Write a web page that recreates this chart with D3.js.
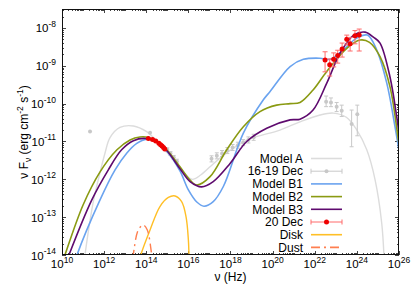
<!DOCTYPE html>
<html>
<head>
<meta charset="utf-8">
<script src="https://cdn.jsdelivr.net/npm/d3@7"></script>
<style>
body { margin: 0; background: #fff; }
text { font-family: "Liberation Sans", Arial, Helvetica, sans-serif; fill: #000; }
</style>
</head>
<body>
<div id="chart"></div>
<script>
// All values are log10(nu / Hz), log10(nuFnu / erg cm^-2 s^-1)
const modelA = [[11.09,-14.0],[11.3,-13.2],[11.5,-12.55],[11.75,-11.95],[12.04,-11.31],[12.28,-10.9],
  [12.75,-10.63],[13.39,-10.59],[14.02,-10.74],[14.4,-10.93],[14.81,-11.18],[15.5,-11.62],[16.16,-12.0],
  [16.6,-11.88],[17.2,-11.58],[17.82,-11.3],[18.5,-11.05],[19.08,-10.9],[20.35,-10.7],[21.3,-10.48],
  [22.25,-10.3],[22.88,-10.25],[23.5,-10.36],[24.0,-10.7],[24.47,-11.22],[24.86,-12.0],[25.18,-13.16],[25.3,-14.2]];
const modelB1 = [[10.6,-14.2],[10.71,-14.0],[11.8,-12.55],[12.52,-11.75],[13.07,-11.31],[13.55,-11.05],[14.02,-10.94],
  [14.42,-10.99],[15.0,-11.27],[15.6,-11.78],[16.0,-12.28],[16.4,-12.6],[16.74,-12.71],[17.18,-12.59],[17.66,-12.19],
  [18.61,-10.78],[19.56,-9.9],[19.88,-9.68],[20.83,-9.02],[21.46,-8.83],[22.25,-8.8],[22.73,-8.83],[23.36,-8.58],
  [23.99,-8.27],[24.5,-8.19],[24.94,-8.58],[25.42,-9.46],[25.81,-10.61],[26.1,-11.6]];
const modelB2 = [[10.05,-14.15],[10.14,-14.0],[11.0,-12.68],[11.8,-11.81],[12.61,-11.22],[13.23,-10.96],[13.7,-10.88],
  [14.08,-10.89],[14.42,-10.98],[14.97,-11.22],[15.6,-11.67],[16.08,-12.02],[16.4,-12.15],[17.03,-11.93],
  [17.82,-11.22],[18.61,-10.61],[19.4,-10.21],[20.19,-10.04],[20.83,-10.0],[21.3,-9.97],[21.92,-9.64],
  [22.57,-9.15],[23.52,-8.54],[24.15,-8.32],[24.6,-8.38],[25.1,-8.76],[25.57,-9.55],[25.97,-10.96],[26.1,-11.5]];
const modelB3 = [[10.2,-14.2],[10.33,-14.0],[11.41,-12.55],[12.2,-11.75],[12.83,-11.22],[13.39,-10.98],[13.94,-10.92],
  [14.42,-10.99],[14.97,-11.24],[15.6,-11.72],[16.08,-12.06],[16.63,-12.2],[17.18,-12.06],[17.98,-11.58],
  [18.77,-11.0],[19.72,-10.65],[20.83,-10.43],[21.3,-10.41],[21.92,-10.17],[22.57,-9.46],[23.2,-8.67],
  [23.85,-8.19],[24.39,-8.11],[24.8,-8.25],[25.1,-8.4],[25.57,-9.29],[25.89,-10.34],[26.1,-11.2]];
const disk = [[13.7,-14.1],[13.74,-14.0],[14.18,-13.34],[14.65,-12.72],[15.05,-12.48],[15.37,-12.44],
  [15.68,-12.59],[15.89,-12.99],[16.0,-13.6],[16.03,-14.0],[16.04,-14.1]];
const dust = [[13.34,-14.1],[13.38,-14.0],[13.62,-13.34],[13.86,-13.21],[14.05,-13.34],[14.26,-14.0],[14.29,-14.1]];

// 16-19 Dec data: [log nu, log flux, low, high]
const obsOld = [[11.33,-10.74,-10.74,-10.74],[14.18,-10.77,-10.77,-10.77],
  [15.0,-11.22,-11.27,-11.17],[15.15,-11.32,-11.37,-11.27],[15.3,-11.42,-11.47,-11.37],[15.45,-11.52,-11.57,-11.47],
  [17.1,-11.46,-11.54,-11.38],[17.35,-11.38,-11.46,-11.3],[17.6,-11.32,-11.4,-11.24],[17.85,-11.24,-11.32,-11.16],
  [18.1,-11.16,-11.24,-11.08],[18.35,-11.1,-11.18,-11.02],[18.6,-11.03,-11.11,-10.95],[18.85,-10.96,-11.04,-10.88],
  [19.1,-10.89,-10.97,-10.81],
  [22.54,-9.95,-10.08,-9.8],[22.77,-9.97,-10.08,-9.85],[23.04,-10.08,-10.21,-9.97],[23.28,-10.19,-10.34,-10.04],
  [23.75,-10.54,-11.14,-10.17],[24.02,-10.28,-10.85,-10.04]];
// 20 Dec data: [log nu, log flux, low, high]
const obsNew = [[14.1,-10.92,-10.92,-10.92],[14.3,-10.95,-10.95,-10.95],[14.45,-10.99,-10.99,-10.99],
  [14.6,-11.05,-11.05,-11.05],[14.68,-11.09,-11.09,-11.09],[14.75,-11.12,-11.12,-11.12],[14.82,-11.16,-11.16,-11.16],
  [14.88,-11.2,-11.2,-11.2],
  [22.49,-8.85,-9.16,-8.63],[22.71,-8.97,-9.27,-8.82],[22.9,-8.83,-9.03,-8.66],[23.09,-8.73,-8.93,-8.59],
  [23.3,-8.56,-8.77,-8.4],[23.52,-8.3,-8.45,-8.19],[23.68,-8.42,-8.61,-8.25],[23.91,-8.21,-8.42,-8.07],
  [24.11,-8.19,-8.61,-8.03]];

const xTickExp = [10,12,14,16,18,20,22,24,26];
const yTickExp = [-14,-13,-12,-11,-10,-9,-8];
const legendNames = ["Model A","16-19 Dec","Model B1","Model B2","Model B3","20 Dec","Disk","Dust"];

let w = 415, h = 291;
let padL = 62, padR = 399, padT = 9, padB = 255;

let svg = d3.select("#chart").append("svg").attr("width", w).attr("height", h);

let xScale = d3.scaleLog().domain([1e10, 1e26]).range([padL, padR]);
let yScale = d3.scaleLog().domain([1e-14, Math.pow(10, -7.5)]).range([padB, padT]);
let px = e => xScale(Math.pow(10, e));
let py = e => yScale(Math.pow(10, e));

svg.append("clipPath").attr("id", "clip")
  .append("rect").attr("x", padL).attr("y", padT).attr("width", padR - padL).attr("height", padB - padT);

// minor and major ticks on all four sides
let tickG = svg.append("g").attr("stroke", "#444").attr("stroke-width", 1);
for (let k = 10; k < 26; k++) {
  for (let m = 1; m <= 9; m++) {
    let v = m * Math.pow(10, k);
    if (m === 1 && k % 2 === 0) continue;
    let xx = Math.round(xScale(v)) + 0.5, len = 2;
    tickG.append("line").attr("x1", xx).attr("x2", xx).attr("y1", padB).attr("y2", padB - len);
    tickG.append("line").attr("x1", xx).attr("x2", xx).attr("y1", padT).attr("y2", padT + len);
  }
}
xTickExp.forEach(e => {
  let xx = Math.round(px(e)) + 0.5;
  tickG.append("line").attr("x1", xx).attr("x2", xx).attr("y1", padB).attr("y2", padB - 4);
  tickG.append("line").attr("x1", xx).attr("x2", xx).attr("y1", padT).attr("y2", padT + 4);
});
for (let k = -14; k < -7; k++) {
  for (let m = 1; m <= 9; m++) {
    let v = m * Math.pow(10, k);
    if (v > Math.pow(10, -7.5)) continue;
    let yy = Math.round(yScale(v)) + 0.5, len = m === 1 ? 4 : 2;
    tickG.append("line").attr("x1", padL).attr("x2", padL + len).attr("y1", yy).attr("y2", yy);
    tickG.append("line").attr("x1", padR).attr("x2", padR - len).attr("y1", yy).attr("y2", yy);
  }
}

// tick labels
xTickExp.forEach(e => {
  let t = svg.append("text").attr("x", px(e)).attr("y", 268).attr("text-anchor", "middle").attr("font-size", "11.5px");
  t.append("tspan").text("10");
  t.append("tspan").attr("dy", -5).attr("font-size", "8.5px").text(e);
});
yTickExp.forEach(e => {
  let t = svg.append("text").attr("x", 56).attr("y", py(e) + 4.5).attr("text-anchor", "end").attr("font-size", "11.5px");
  t.append("tspan").text("10");
  t.append("tspan").attr("dy", -5.5).attr("font-size", "8.5px").text(e);
});

// axis titles
svg.append("text").attr("x", (padL + padR) / 2).attr("y", 281).attr("text-anchor", "middle")
  .attr("font-size", "12px").text("ν (Hz)");
let yt = svg.append("text").attr("transform", "translate(28," + ((padT + padB) / 2) + ") rotate(-90)")
  .attr("text-anchor", "middle").attr("font-size", "12px");
yt.append("tspan").text("ν F");
yt.append("tspan").attr("dy", 3).attr("font-size", "8.5px").text("ν");
yt.append("tspan").attr("dy", -3).text(" (erg cm");
yt.append("tspan").attr("dy", -5).attr("font-size", "8.5px").text("-2");
yt.append("tspan").attr("dy", 5).text(" s");
yt.append("tspan").attr("dy", -5).attr("font-size", "8.5px").text("-1");
yt.append("tspan").attr("dy", 5).text(")");

let plot = svg.append("g").attr("clip-path", "url(#clip)");
let line = d3.line().x(d => px(d[0])).y(d => py(d[1])).curve(d3.curveCatmullRom.alpha(0.5));

function errPoints(data, barColor, dotColor, r, cap) {
  let g = plot.append("g");
  data.forEach(d => {
    let xx = px(d[0]);
    if (d[2] !== d[3]) {
      g.append("line").attr("x1", xx).attr("x2", xx).attr("y1", py(d[2])).attr("y2", py(d[3]))
        .attr("stroke", barColor).attr("stroke-width", 1);
      [d[2], d[3]].forEach(v => g.append("line").attr("x1", xx - cap).attr("x2", xx + cap)
        .attr("y1", py(v)).attr("y2", py(v)).attr("stroke", barColor).attr("stroke-width", 1));
    }
    g.append("circle").attr("cx", xx).attr("cy", py(d[1])).attr("r", r).attr("fill", dotColor);
  });
}

const cA = "#dcdcdc", cOld = "#c8c8c8", cB1 = "#6aa3ef", cB2 = "#8a9a12", cB3 = "#5e0a6e",
      cRed = "#ee0000", cRedBar = "#ff6b6b", cDisk = "#ffbf26", cDust = "#ff7f50";

plot.append("path").datum(modelA).attr("d", line).attr("fill", "none").attr("stroke", cA).attr("stroke-width", 1.4);
errPoints(obsOld, cOld, cOld, 2, 2);
plot.append("path").datum(modelB1).attr("d", line).attr("fill", "none").attr("stroke", cB1).attr("stroke-width", 1.6);
plot.append("path").datum(modelB2).attr("d", line).attr("fill", "none").attr("stroke", cB2).attr("stroke-width", 1.6);
plot.append("path").datum(modelB3).attr("d", line).attr("fill", "none").attr("stroke", cB3).attr("stroke-width", 1.6);
errPoints(obsNew, cRedBar, cRed, 2.5, 2.5);
plot.append("path").datum(disk).attr("d", line).attr("fill", "none").attr("stroke", cDisk).attr("stroke-width", 1.4);
plot.append("path").datum(dust).attr("d", line).attr("fill", "none").attr("stroke", cDust).attr("stroke-width", 1.4)
  .attr("stroke-dasharray", "9,4,2,4");

// frame
svg.append("rect").attr("x", padL + 0.5).attr("y", padT + 0.5).attr("width", padR - padL - 1).attr("height", padB - padT - 1)
  .attr("fill", "none").attr("stroke", "#111").attr("stroke-width", 1);

// legend
let legColors = [cA, cOld, cB1, cB2, cB3, cRedBar, cDisk, cDust];
let leg = svg.append("g");
legendNames.forEach((name, i) => {
  let yy = 158.5 + i * 12.7;
  leg.append("text").attr("x", 303).attr("y", yy + 4.2).attr("text-anchor", "end").attr("font-size", "12px").text(name);
  let l = leg.append("line").attr("x1", 311).attr("x2", 342).attr("y1", yy).attr("y2", yy)
    .attr("stroke", legColors[i]).attr("stroke-width", (i === 1 || i === 5) ? 1 : 1.6);
  if (i === 7) l.attr("stroke-dasharray", "9,4,2,4");
  if (i === 1 || i === 5) {
    [311, 342].forEach(xx => leg.append("line").attr("x1", xx).attr("x2", xx).attr("y1", yy - 2.5).attr("y2", yy + 2.5)
      .attr("stroke", legColors[i]));
    leg.append("circle").attr("cx", 326.5).attr("cy", yy).attr("r", i === 5 ? 2.5 : 2).attr("fill", i === 5 ? cRed : cOld);
  }
});
</script>
</body>
</html>
